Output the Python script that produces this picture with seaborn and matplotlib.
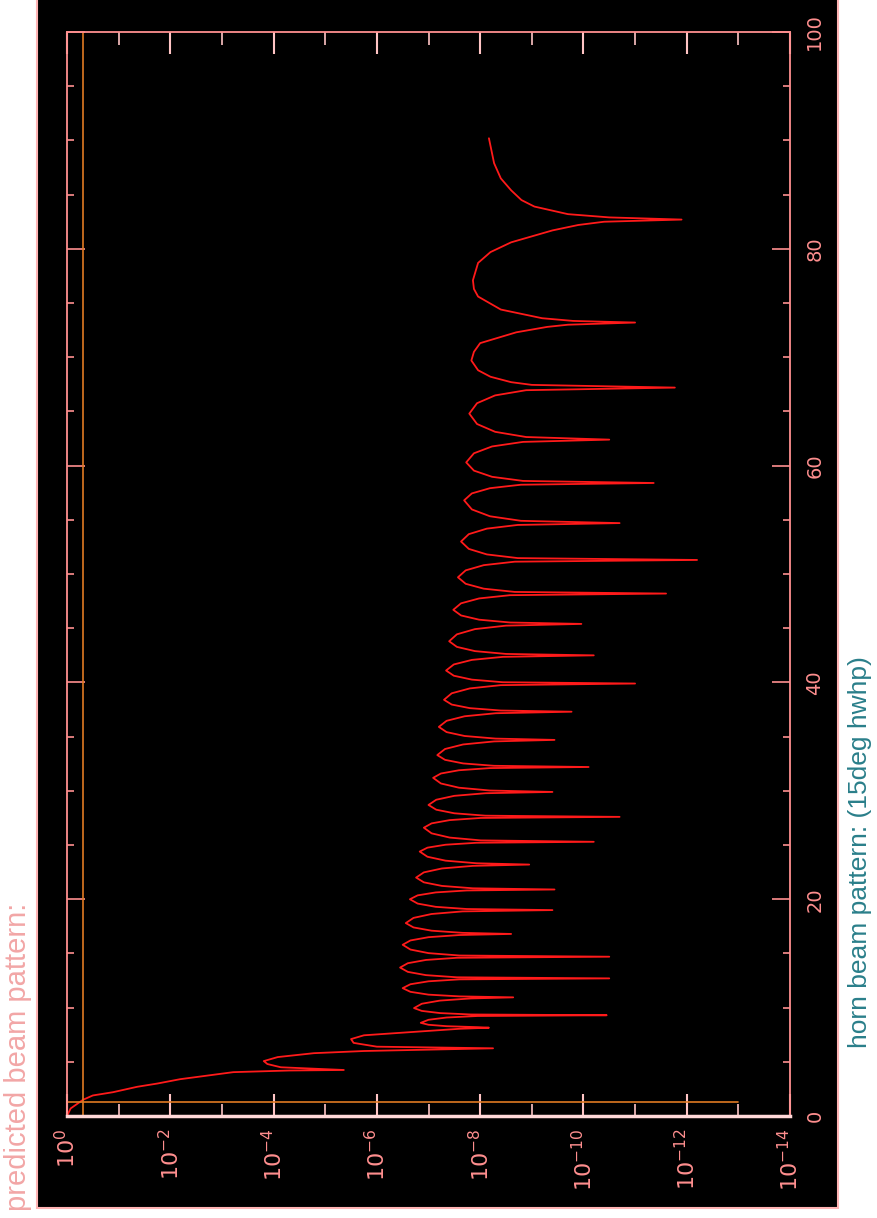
import numpy as np
import matplotlib
matplotlib.use('Agg')
import matplotlib.pyplot as plt
import matplotlib.ticker as mticker
from matplotlib.patches import Rectangle
import seaborn as sns

angle = [0.0, 0.7, 1.5, 1.9, 2.2, 2.7, 3.0, 3.4, 3.8, 4.05, 4.2, 4.25,
         4.5, 4.8, 5.07, 5.44, 5.8, 6.0, 6.15, 6.25,
         6.4, 6.75, 7.1, 7.45, 7.75, 8.05, 8.15,
         8.2, 8.29, 8.42, 8.6, 8.88, 9.09, 9.23, 9.3,
         9.37, 9.5, 9.7, 9.96, 10.36, 10.65, 10.85, 10.95,
         11.04, 11.2, 11.46, 11.8, 12.16, 12.43, 12.61, 12.7,
         12.8, 13.0, 13.3, 13.7, 14.1, 14.4, 14.6, 14.7,
         14.81, 15.03, 15.36, 15.8, 16.2, 16.5, 16.7, 16.8,
         16.9, 17.1, 17.4, 17.8, 18.28, 18.64, 18.88, 19.0,
         19.1, 19.3, 19.6, 20.0, 20.36, 20.63, 20.81, 20.9,
         21.01, 21.23, 21.56, 22.0, 22.48, 22.84, 23.08, 23.2,
         23.32, 23.56, 23.92, 24.4, 24.76, 25.03, 25.21, 25.3,
         25.43, 25.69, 26.08, 26.6, 27.0, 27.3, 27.5, 27.6,
         27.71, 27.93, 28.26, 28.7, 29.18, 29.54, 29.78, 29.9,
         30.03, 30.29, 30.68, 31.2, 31.6, 31.9, 32.1, 32.2,
         32.31, 32.53, 32.86, 33.3, 33.86, 34.28, 34.56, 34.7,
         34.82, 35.06, 35.42, 35.9, 36.46, 36.88, 37.16, 37.3,
         37.41, 37.63, 37.96, 38.4, 39.0, 39.45, 39.75, 39.9,
         40.02, 40.26, 40.62, 41.1, 41.66, 42.08, 42.36, 42.5,
         42.63, 42.89, 43.28, 43.8, 44.44, 44.92, 45.24, 45.4,
         45.53, 45.79, 46.18, 46.7, 47.3, 47.75, 48.05, 48.2,
         48.35, 48.65, 49.1, 49.7, 50.34, 50.82, 51.14, 51.3,
         51.47, 51.81, 52.32, 53.0, 53.68, 54.19, 54.53, 54.7,
         54.91, 55.33, 55.96, 56.8, 57.44, 57.92, 58.24, 58.4,
         58.59, 58.97, 59.54, 60.3, 61.14, 61.77, 62.19, 62.4,
         62.64, 63.12, 63.84, 64.8, 65.76, 66.48, 66.96, 67.2,
         67.45, 67.7, 68.2, 68.8, 69.7, 70.5, 71.3, 72.3, 72.8, 73.0, 73.2,
         73.35, 73.6, 74.4, 75.6, 76.3, 77.1, 78.7, 79.7, 80.6, 81.7, 82.2, 82.5, 82.7,
         82.9, 83.2, 83.9, 84.5, 85.4, 86.5, 87.9, 90.2]
log_power = [0.0, -0.07, -0.31, -0.50, -0.89, -1.36, -1.75, -2.19, -2.83, -3.22, -4.3, -5.36,
             -4.14, -3.88, -3.81, -4.08, -4.78, -5.75, -7.2, -8.25,
             -6.0, -5.55, -5.5, -5.75, -6.66, -7.6, -8.17,
             -7.95, -7.35, -7.0, -6.85, -7.0, -7.35, -7.95, -10.45,
             -7.82, -7.22, -6.87, -6.72, -6.87, -7.22, -7.82, -8.64,
             -7.6, -7.0, -6.65, -6.5, -6.65, -7.0, -7.6, -10.5,
             -7.55, -6.95, -6.6, -6.45, -6.6, -6.95, -7.55, -10.5,
             -7.6, -7.0, -6.65, -6.5, -6.65, -7.0, -7.6, -8.6,
             -7.66, -7.06, -6.71, -6.56, -6.71, -7.06, -7.66, -9.4,
             -7.74, -7.14, -6.79, -6.64, -6.79, -7.14, -7.74, -9.44,
             -7.86, -7.26, -6.91, -6.76, -6.91, -7.26, -7.86, -8.95,
             -7.93, -7.33, -6.98, -6.83, -6.98, -7.33, -7.93, -10.2,
             -8.01, -7.41, -7.06, -6.91, -7.06, -7.41, -8.01, -10.7,
             -8.1, -7.5, -7.15, -7.0, -7.15, -7.5, -8.1, -9.4,
             -8.19, -7.59, -7.24, -7.09, -7.24, -7.59, -8.19, -10.1,
             -8.27, -7.67, -7.32, -7.17, -7.32, -7.67, -8.27, -9.44,
             -8.3, -7.7, -7.35, -7.2, -7.35, -7.7, -8.3, -9.77,
             -8.4, -7.8, -7.45, -7.3, -7.45, -7.8, -8.4, -11.0,
             -8.44, -7.84, -7.49, -7.34, -7.49, -7.84, -8.44, -10.2,
             -8.5, -7.9, -7.55, -7.4, -7.55, -7.9, -8.5, -9.96,
             -8.58, -7.98, -7.63, -7.48, -7.63, -7.98, -8.58, -11.6,
             -8.67, -8.07, -7.72, -7.57, -7.72, -8.07, -8.67, -12.2,
             -8.73, -8.13, -7.78, -7.63, -7.78, -8.13, -8.73, -10.7,
             -8.79, -8.19, -7.84, -7.69, -7.84, -8.19, -8.79, -11.36,
             -8.83, -8.23, -7.88, -7.73, -7.88, -8.23, -8.83, -10.5,
             -8.89, -8.29, -7.94, -7.79, -7.94, -8.29, -8.89, -11.77,
             -9.0, -8.6, -8.2, -7.96, -7.83, -7.88, -8.0, -8.7, -9.3, -9.7, -11.0,
             -9.8, -9.2, -8.4, -7.96, -7.88, -7.86, -7.96, -8.2, -8.6, -9.4, -9.9, -10.4, -11.9,
             -10.5, -9.7, -9.05, -8.8, -8.6, -8.4, -8.27, -8.17]

# half power marker lines
half_power = 0.5
hwhp_angle = 1.3
marker_floor = 1e-13

power_major = [10.0 ** -k for k in range(0, 15, 2)]
power_minor = [10.0 ** -k for k in range(1, 15, 2)]
angle_major = [0, 20, 40, 60, 80, 100]
angle_minor = [5, 10, 15, 25, 30, 35, 45, 50, 55, 65, 70, 75, 85, 90, 95]

sns.set_style('ticks')
plt.rcParams['font.family'] = ['DejaVu Sans']

pink = '#ff8f8f'

fig = plt.figure(figsize=(8.77, 12.18), dpi=100, facecolor='white')

# black plotting page with a pinkish border
fig.patches.append(Rectangle((0.042, 0.008), 0.913, 1.0, transform=fig.transFigure,
                             facecolor='black', edgecolor='#ffb4b4', linewidth=1.5, zorder=-10))

ax = fig.add_axes([0.0764, 0.0837, 0.8244, 0.890])
ax.set_zorder(5)
ax.set_facecolor('black')

power = [10.0 ** v for v in log_power]
ax.set_xscale('log')
sns.lineplot(x=power, y=angle, sort=False, estimator=None, color='#ff1a1a',
             linewidth=1.3, ax=ax)

# half-power markers
ax.axvline(half_power, color='#e07a22', linewidth=1.2)
ax.plot([1, marker_floor], [hwhp_angle, hwhp_angle], color='#e07a22', linewidth=1.2)

ax.set_xlim(1, 1e-14)
ax.set_ylim(0, 100)

ax.xaxis.set_major_locator(mticker.FixedLocator(power_major))
ax.xaxis.set_minor_locator(mticker.FixedLocator(power_minor))
ax.xaxis.set_major_formatter(mticker.LogFormatterMathtext())
ax.xaxis.set_minor_formatter(mticker.NullFormatter())
ax.yaxis.set_major_locator(mticker.FixedLocator(angle_major))
ax.yaxis.set_minor_locator(mticker.FixedLocator(angle_minor))

ax.tick_params(axis='x', which='both', direction='in', top=True, bottom=True,
               colors='#ffc4c4', labelcolor=pink, labelsize=16, labelrotation=90, pad=9)
ax.tick_params(axis='x', which='major', length=16, width=1.5)
ax.tick_params(axis='x', which='minor', length=9, width=1.2)
ax.tick_params(axis='y', which='both', direction='in', left=True, right=True,
               labelleft=False, labelright=True, colors=pink, labelcolor=pink,
               labelsize=14, labelrotation=90, pad=11)
ax.tick_params(axis='y', which='major', length=13, width=1.2)
ax.tick_params(axis='y', which='minor', length=5, width=1.2)
for lab in ax.get_yticklabels():
    lab.set_verticalalignment('center')

for side in ['left', 'right', 'top']:
    ax.spines[side].set_color(pink)
    ax.spines[side].set_linewidth(1.3)
ax.spines['bottom'].set_color('#ffd8d8')
ax.spines['bottom'].set_linewidth(2.5)
ax.set_xlabel('')
ax.set_ylabel('')

fig.text(0.021, 0.006, 'predicted beam pattern:', rotation=90, ha='center', va='bottom',
         color='#f2a6a6', fontsize=21, family=['Liberation Sans', 'DejaVu Sans'])
fig.text(0.9806, 0.1396, 'horn beam pattern: (15deg hwhp)', rotation=90, ha='center',
         va='bottom', color='#2a7f8a', fontsize=19, family=['Liberation Sans', 'DejaVu Sans'])

fig.savefig('out.png', dpi=100, facecolor='white')
